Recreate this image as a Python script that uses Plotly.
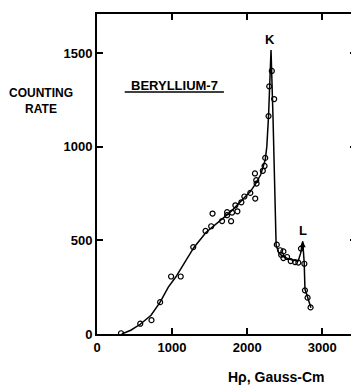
import plotly.graph_objects as go

# measured points (H-rho in Gauss-cm, counting rate)
pts_x = [320, 576, 726, 841, 987, 1115, 1282, 1446, 1521, 1539, 1666, 1733, 1733, 1786,
         1799, 1843, 1870, 1923, 1963, 2042, 2104, 2121, 2108, 2126, 2209, 2232, 2241,
         2285, 2294, 2329, 2360, 2395, 2440, 2483, 2453, 2483, 2532, 2580, 2638, 2682,
         2717, 2762, 2770, 2805, 2845]
pts_y = [4, 55, 74, 170, 307, 307, 464, 550, 575, 643, 603, 650, 634, 602,
         648, 687, 655, 703, 734, 753, 857, 821, 723, 803, 871, 897, 940,
         1163, 1322, 1404, 1254, 477, 447, 441, 423, 405, 411, 389, 384, 381,
         456, 375, 233, 194, 142]

# hand-drawn curve
curve_x = [330, 450, 576, 720, 841, 950, 1049, 1150, 1291, 1454, 1600, 1700, 1800, 1900,
           1963, 2042, 2110, 2180, 2241, 2262, 2285, 2300, 2318, 2345, 2362, 2375, 2386,
           2420, 2470, 2530, 2600, 2680, 2712, 2740, 2760, 2770, 2810, 2850]
curve_y = [0, 20, 52, 100, 170, 250, 304, 370, 462, 543, 590, 625, 660, 700,
           725, 760, 800, 850, 930, 1000, 1163, 1340, 1516, 1150, 800, 600, 475,
           435, 415, 405, 395, 390, 430, 495, 380, 240, 195, 140]

# peak labels
peak_labels = ["K", "L"]
peak_x = [2300, 2740]
peak_y = [1516, 495]

x_ticks = [0, 1000, 2000, 3000]
y_ticks = [0, 500, 1000, 1500]

FONT = "Liberation Sans"

fig = go.Figure()
fig.add_trace(go.Scatter(x=curve_x, y=curve_y, mode="lines",
                         line=dict(color="black", width=1.5, shape="linear"),
                         hoverinfo="skip", showlegend=False))
fig.add_trace(go.Scatter(x=pts_x, y=pts_y, mode="markers",
                         marker=dict(symbol="circle-open", size=5, color="black",
                                     line=dict(width=1.2, color="black")),
                         showlegend=False))

axis_common = dict(showgrid=False, zeroline=False, showline=True, mirror="ticks",
                   linecolor="black", linewidth=2, ticks="inside", tickcolor="black",
                   tickwidth=1.5, ticklen=6,
                   tickfont=dict(family=FONT, size=13, color="black", weight="bold"))

fig.update_xaxes(range=[0, 3450], tickvals=x_ticks, ticktext=[str(v) for v in x_ticks],
                 **axis_common)
fig.update_yaxes(range=[0, 1708], tickvals=y_ticks, ticktext=[str(v) for v in y_ticks],
                 **axis_common)

ann_font = dict(family=FONT, size=13, color="black", weight="bold")
annotations = [
    dict(text="COUNTING<br>RATE", xref="paper", yref="paper", x=-0.215, y=0.728,
         xanchor="center", yanchor="middle", showarrow=False,
         font=dict(family=FONT, size=12, color="black", weight="bold")),
    dict(text="Hρ, Gauss-Cm", xref="paper", yref="paper", x=0.693, y=-0.134,
         xanchor="center", yanchor="middle", showarrow=False,
         font=dict(family=FONT, size=14, color="black", weight="bold")),
    dict(text="BERYLLIUM-7", xref="paper", yref="paper", x=0.299, y=0.778,
         xanchor="center", yanchor="middle", showarrow=False, font=ann_font),
]
for lab, px_, py_ in zip(peak_labels, peak_x, peak_y):
    annotations.append(dict(text=lab, xref="x", yref="y", x=px_, y=py_,
                            xanchor="center", yanchor="bottom", yshift=1,
                            showarrow=False, font=ann_font))
# small arrowhead on the L peak
annotations.append(dict(text="", xref="x", yref="y", x=peak_x[1], y=peak_y[1],
                        ax=0, ay=10, showarrow=True, arrowhead=2, arrowsize=0.8,
                        arrowwidth=1.5, arrowcolor="black"))

fig.update_layout(
    width=351, height=378,
    margin=dict(l=89, r=1, t=6, b=52),
    paper_bgcolor="white", plot_bgcolor="white",
    annotations=annotations,
    shapes=[dict(type="line", xref="paper", yref="paper", x0=0.107, x1=0.49,
                 y0=0.756, y1=0.756, line=dict(color="black", width=1.5))],
)

fig.write_html("out.html")
